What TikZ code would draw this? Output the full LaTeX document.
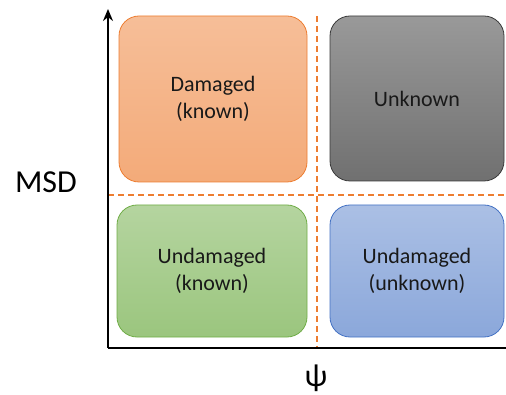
\documentclass[tikz,border=0pt]{standalone}
\usepackage{fontspec}
\setmainfont{Carlito}
\usetikzlibrary{arrows.meta, positioning}

\definecolor{dmgline}{HTML}{ED7D31}
\definecolor{unkline}{HTML}{3A3A3A}
\definecolor{grnline}{HTML}{70AD47}
\definecolor{bluline}{HTML}{4472C4}

\tikzset{
  region/.style={rounded corners=20pt, line width=0.8pt, align=center,
    font=\fontsize{22}{27}\selectfont, text=black!90},
  split/.style={dashed, dash pattern=on 6pt off 4pt, dmgline, line width=1.2pt},
  axis/.style={line width=1.8pt}
}

\begin{document}
\begin{tikzpicture}[x=1pt, y=-1pt]
\useasboundingbox (0,0) rectangle (506,395);
% quadrant split
\coordinate (vtop) at (317,16);
\coordinate (vbot) at (317,348);
\coordinate (hleft) at (108,195);
\coordinate (hright) at (506,195);
\draw[split] (vtop) -- (vbot);
\draw[split] (hleft) -- (hright);
% the four regions
\node[region, draw=dmgline, top color=dmgline!50!white, bottom color=dmgline!65!white,
  minimum width=188pt, minimum height=166pt] (dmg) at (213,99) {Damaged\\(known)};
\node[region, draw=unkline, top color=black!40, bottom color=black!56,
  minimum width=174pt, minimum height=165pt] (unk) at (417,98.5) {Unknown};
\node[region, draw=grnline, top color=grnline!52!white, bottom color=grnline!70!white,
  minimum width=190pt, minimum height=132pt] (undk) at (212,271) {Undamaged\\(known)};
\node[region, draw=bluline, top color=bluline!45!white, bottom color=bluline!62!white,
  minimum width=174pt, minimum height=132pt] (unduk) at (417,271) {Undamaged\\(unknown)};
% axes
\coordinate (origin) at (108,348);
\coordinate (ytip) at (108,9);
\coordinate (xend) at (506,348);
\draw[axis, -{Stealth[length=12pt,width=10pt]}] (origin) -- (ytip);
\draw[axis] (origin) -- (xend);
\node[font=\fontsize{32}{32}\selectfont] (msd) at (46,182) {MSD};
\node[font=\fontsize{32}{32}\selectfont] (psi) at (316,378) {ψ};
\end{tikzpicture}
\end{document}
